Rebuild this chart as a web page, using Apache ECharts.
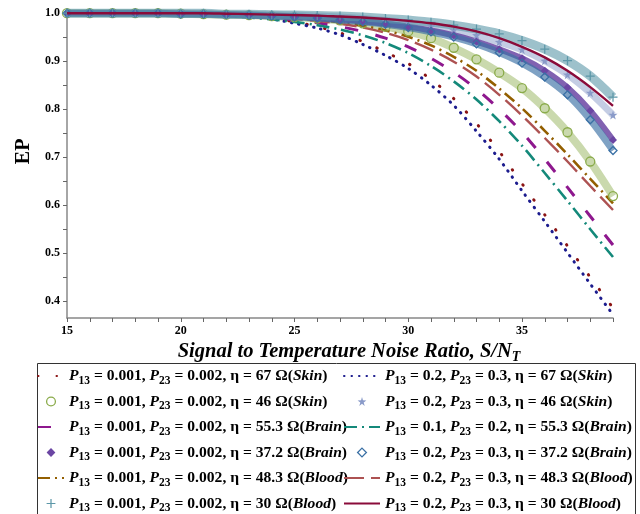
<!DOCTYPE html>
<html>
<head>
<meta charset="utf-8">
<script src="https://cdn.jsdelivr.net/npm/echarts@6/dist/echarts.min.js"></script>
<style>
html,body{margin:0;padding:0;background:#fff;}
#chart{width:640px;height:514px;}
</style>
</head>
<body>
<div id="chart"></div>
<script>
// ---- data ----
const snr = [15,16,17,18,19,20,21,22,23,24,25,26,27,28,29,30,31,32,33,34,35,36,37,38,39];

const skin67_p001   = [1,1,1,1,1,1,1,0.998,0.996,0.990,0.982,0.972,0.959,0.941,0.919,0.895,0.862,0.822,0.770,0.712,0.645,0.580,0.515,0.450,0.386];
const skin67_p2     = [1,1,1,1,1,1,1,0.998,0.995,0.988,0.979,0.969,0.955,0.935,0.912,0.885,0.850,0.808,0.754,0.696,0.630,0.566,0.501,0.436,0.372];
const skin46_p001   = [1,1,1,1,1,0.999,0.998,0.997,0.996,0.994,0.992,0.989,0.985,0.979,0.972,0.962,0.948,0.928,0.904,0.876,0.844,0.802,0.752,0.691,0.619];
const skin46_p2     = [1,1,1,1,1,1,1,0.998,0.998,0.997,0.996,0.994,0.992,0.989,0.985,0.980,0.973,0.965,0.954,0.940,0.924,0.901,0.872,0.834,0.788];
const brain553_p001 = [1,1,1,1,0.998,0.998,0.997,0.995,0.993,0.990,0.986,0.980,0.972,0.962,0.948,0.930,0.906,0.877,0.842,0.800,0.752,0.696,0.637,0.577,0.517];
const brain553_p01  = [1,1,1,1,0.998,0.997,0.996,0.994,0.991,0.987,0.982,0.975,0.966,0.954,0.938,0.917,0.890,0.858,0.820,0.775,0.724,0.667,0.609,0.550,0.492];
const brain372_p001 = [1,1,1,1,1,0.999,0.998,0.997,0.996,0.994,0.993,0.990,0.987,0.983,0.978,0.972,0.964,0.954,0.941,0.925,0.906,0.880,0.845,0.797,0.736];
const brain372_p2   = [1,1,1,1,1,0.998,0.998,0.997,0.996,0.994,0.992,0.990,0.986,0.982,0.977,0.970,0.961,0.950,0.936,0.918,0.896,0.867,0.830,0.778,0.714];
const blood483_p001 = [1,1,1,1,1,0.998,0.997,0.996,0.995,0.993,0.990,0.986,0.981,0.974,0.964,0.951,0.933,0.909,0.880,0.843,0.802,0.755,0.706,0.655,0.604];
const blood483_p2   = [1,1,1,1,1,0.998,0.997,0.996,0.994,0.992,0.988,0.984,0.978,0.970,0.959,0.944,0.924,0.899,0.868,0.830,0.787,0.740,0.691,0.640,0.590];
const blood30_p001  = [1,1,1,1,1,1,1,0.998,0.998,0.997,0.996,0.995,0.994,0.992,0.989,0.986,0.981,0.975,0.967,0.957,0.943,0.925,0.901,0.869,0.825];
const blood30_p2    = [1,1,1,1,1,1,1,0.999,0.998,0.997,0.996,0.995,0.993,0.991,0.988,0.984,0.979,0.972,0.962,0.948,0.930,0.908,0.880,0.846,0.807];

const yTickLabels = [0.4,0.5,0.6,0.7,0.8,0.9,1.0];
const yMinorTicks = [0.4,0.45,0.5,0.55,0.6,0.65,0.7,0.75,0.8,0.85,0.9,0.95,1.0];
const xLabelValues = [15,20,25,30,35];

// legend texts: [P13, P23, eta, tissue]
const legendInfo = {
  'a1': ['0.001','0.002','67','Skin'],
  'a2': ['0.001','0.002','46','Skin'],
  'a3': ['0.001','0.002','55.3','Brain'],
  'a4': ['0.001','0.002','37.2','Brain'],
  'a5': ['0.001','0.002','48.3','Blood'],
  'a6': ['0.001','0.002','30','Blood'],
  'b1': ['0.2','0.3','67','Skin'],
  'b2': ['0.2','0.3','46','Skin'],
  'b3': ['0.1','0.2','55.3','Brain'],
  'b4': ['0.2','0.3','37.2','Brain'],
  'b5': ['0.2','0.3','48.3','Blood'],
  'b6': ['0.2','0.3','30','Blood']
};

// ---- styling ----
const SERIF = 'Liberation Serif';
const crossPath = 'path://M4.3,0h1.4v4.3h4.3v1.4h-4.3v4.3h-1.4v-4.3h-4.3v-1.4h4.3z';
const starPath = 'path://M5,0L6.1,3.5L10,3.6L6.9,5.8L8.1,9.5L5,7.3L1.9,9.5L3.1,5.8L0,3.6L3.9,3.5Z';
const legendItemExtra = {};

function pairs(arr){ return snr.map((x,i)=>[x,arr[i]]); }

function lineSeries(name, arr, color, width, type, z){
  legendItemExtra[name] = {itemStyle:{opacity:0}};
  return {
    name, type:'line', data:pairs(arr), smooth:0.3, showSymbol:false, symbol:'none',
    lineStyle:{color, width, type, cap: (Array.isArray(type) && type[0] < 1.5) ? 'round' : 'butt'},
    itemStyle:{color}, emphasis:{disabled:true}, z: z || 3
  };
}
function markerSeries(name, arr, color, symbol, size, filled, bandWidth, bandOpacity, z){
  const itemStyle = filled ? {color} : {color:'rgba(0,0,0,0)', borderColor:color, borderWidth:1.3};
  legendItemExtra[name] = {itemStyle: Object.assign({}, itemStyle), lineStyle:{opacity:0}};
  return [
    { name:name+'_band', type:'line', data:pairs(arr), smooth:0.3, showSymbol:false, symbol:'none',
      lineStyle:{color, width:bandWidth, opacity:bandOpacity}, silent:true, emphasis:{disabled:true}, z:z-1 },
    { name, type:'line', data:pairs(arr), smooth:0.3, symbol, symbolSize:size, showSymbol:true,
      lineStyle:{color, width:1, opacity:0}, itemStyle,
      emphasis:{disabled:true}, z }
  ];
}

const series = [
  lineSeries('a1', skin67_p001, '#8b1414', 3, [0.5, 18]),
  lineSeries('b1', skin67_p2, '#1c1c8e', 3, [0.5, 7]),
  ...markerSeries('a2', skin46_p001, '#8aab4a', 'circle', 9, false, 8, 0.45, 3),
  ...markerSeries('b2', skin46_p2, '#8a9bc9', starPath, 9, true, 7, 0.5, 5),
  lineSeries('a3', brain553_p001, '#8e188e', 3, [13, 18]),
  lineSeries('b3', brain553_p01, '#14897a', 2.6, [13, 5, 2, 5]),
  ...markerSeries('a4', brain372_p001, '#6b46a3', 'diamond', 8, true, 6, 0.85, 5),
  ...markerSeries('b4', brain372_p2, '#3a70a5', 'diamond', 8, false, 7, 0.65, 6),
  lineSeries('a5', blood483_p001, '#935f00', 2.6, [12, 5, 2, 5]),
  lineSeries('b5', blood483_p2, '#ad5252', 2.4, [20, 7]),
  ...markerSeries('a6', blood30_p001, '#5c97a8', crossPath, 9, true, 9, 0.6, 6),
  lineSeries('b6', blood30_p2, '#8a0b3a', 2.4, 'solid', 8)
];

const richStyles = {
  b:  {fontFamily:SERIF, fontWeight:'bold', fontSize:15.6, color:'#000', lineHeight:22},
  i:  {fontFamily:SERIF, fontWeight:'bold', fontStyle:'italic', fontSize:15.6, color:'#000', lineHeight:22},
  sub:{fontFamily:SERIF, fontWeight:'bold', fontSize:11.5, color:'#000', verticalAlign:'bottom'}
};
function legendFormatter(name){
  const [p1,p2,eta,tissue] = legendInfo[name];
  return '{i|P}{sub|13}{b| = ' + p1 + ', }{i|P}{sub|23}{b| = ' + p2 + ', η = ' + eta + ' Ω(}{i|' + tissue + '}{b|)}';
}
function legendCfg(names, left){
  return {
    data: names.map(n => Object.assign({name:n}, legendItemExtra[n])),
    orient:'vertical', left, top:368, height:220, padding:0, itemGap:6.5,
    itemWidth: left < 100 ? 26 : 36, itemHeight:11, selectedMode:false,
    formatter: legendFormatter,
    textStyle:{rich:richStyles}
  };
}

const chart = echarts.init(document.getElementById('chart'), null, {renderer:'canvas'});
chart.setOption({
  animation:false,
  backgroundColor:'#fff',
  grid:{left:67, right:27, top:10.8, bottom:196, outerBoundsMode:'none', containLabel:false},
  xAxis:{
    type:'value', min:15, max:39, interval:1,
    name:'{t|Signal to Temperature Noise Ratio, S/N}{s|T}',
    nameLocation:'middle', nameGap:20,
    nameTextStyle:{padding:[0,0,0,18], rich:{
      t:{fontFamily:SERIF, fontWeight:'bold', fontStyle:'italic', fontSize:20.5, color:'#000', lineHeight:24},
      s:{fontFamily:SERIF, fontWeight:'bold', fontStyle:'italic', fontSize:14, color:'#000', verticalAlign:'bottom'}
    }},
    axisLine:{lineStyle:{color:'#888', width:1.5}},
    axisTick:{length:4, lineStyle:{color:'#666'}},
    splitLine:{show:false},
    axisLabel:{fontFamily:SERIF, fontWeight:'bold', fontSize:12, color:'#000', margin:7,
      formatter: v => xLabelValues.includes(v) ? String(v) : ''}
  },
  yAxis:{
    type:'value', min:0.365, max:1.005,
    name:'EP', nameLocation:'middle', nameGap:33, nameRotate:90,
    nameTextStyle:{fontFamily:SERIF, fontWeight:'bold', fontSize:20, color:'#000', padding:[0,0,0,26]},
    axisLine:{show:true, lineStyle:{color:'#888', width:1.5}},
    axisTick:{show:true, length:4, customValues:yMinorTicks, lineStyle:{color:'#666'}},
    splitLine:{show:false},
    axisLabel:{fontFamily:SERIF, fontWeight:'bold', fontSize:12, color:'#000', margin:7,
      customValues:yTickLabels, formatter: v => v.toFixed(1)}
  },
  legend:[
    legendCfg(['a1','a2','a3','a4','a5','a6'], 37),
    legendCfg(['b1','b2','b3','b4','b5','b6'], 343)
  ],
  graphic:[{type:'rect', shape:{x:37.5, y:363.5, width:598, height:170}, style:{fill:'none', stroke:'#333', lineWidth:1}, silent:true, z:-1}],
  series
});
</script>
</body>
</html>
